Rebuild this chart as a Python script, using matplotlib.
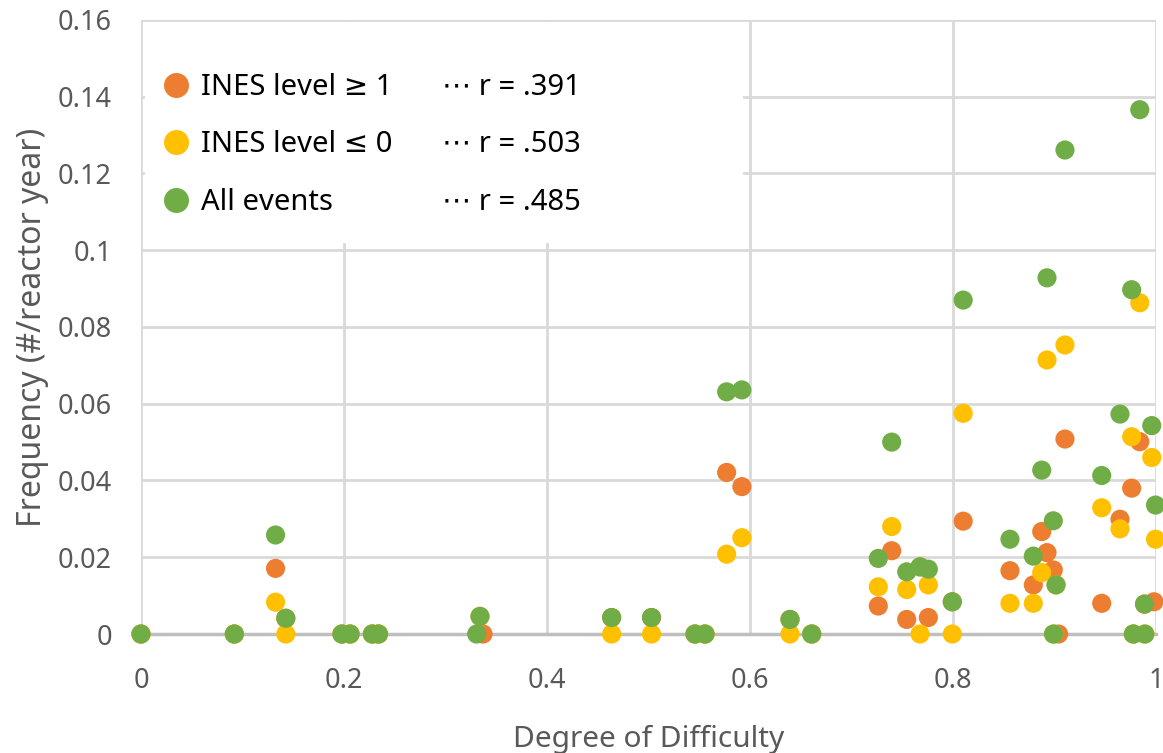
import matplotlib
matplotlib.use("Agg")
import matplotlib.pyplot as plt
from matplotlib.lines import Line2D
from matplotlib.patches import Rectangle

plt.rcParams["font.family"] = ["Noto Sans", "DejaVu Sans"]

# ---------------------------------------------------------------
# data
# ---------------------------------------------------------------
orange_x = [0, 0.092, 0.1326, 0.1427, 0.198, 0.206, 0.228, 0.234, 0.337, 0.4637,
            0.503, 0.5458, 0.5557, 0.577, 0.592, 0.6394, 0.6608, 0.7264, 0.7396, 0.7544,
            0.7675, 0.7757, 0.7993, 0.810, 0.8561, 0.8791, 0.8874, 0.8926, 0.8988, 0.904,
            0.9103, 0.9465, 0.9645, 0.976, 0.9777, 0.984, 0.9887, 0.998]
orange_y = [0, 0, 0.0171, 0.0041, 0, 0, 0, 0, 0, 0.0043,
            0.0043, 0, 0, 0.0421, 0.0384, 0.0038, 0, 0.0073, 0.0217, 0.0038,
            0.0175, 0.0043, 0.0084, 0.0294, 0.0165, 0.0128, 0.0267, 0.0212, 0.0167, 0,
            0.0508, 0.0080, 0.0299, 0.0380, 0, 0.0501, 0.0078, 0.0084]

yellow_x = [0, 0.092, 0.1326, 0.1427, 0.198, 0.206, 0.228, 0.234, 0.334, 0.4637,
            0.503, 0.5458, 0.5557, 0.577, 0.592, 0.6394, 0.6608, 0.7264, 0.7396, 0.7544,
            0.7675, 0.7757, 0.7993, 0.810, 0.8561, 0.8791, 0.8874, 0.8926, 0.899, 0.9015,
            0.9103, 0.9465, 0.9645, 0.976, 0.9777, 0.984, 0.989, 0.9958, 0.9995]
yellow_y = [0, 0, 0.0083, 0, 0, 0, 0, 0, 0.0046, 0,
            0, 0, 0, 0.0208, 0.0251, 0, 0, 0.0123, 0.0280, 0.0116,
            0, 0.0128, 0, 0.0575, 0.0080, 0.0080, 0.0160, 0.0714, 0, 0.0128,
            0.0753, 0.0329, 0.0274, 0.0514, 0, 0.0863, 0, 0.0460, 0.0247]

green_x = [0, 0.092, 0.1326, 0.1427, 0.198, 0.206, 0.228, 0.234, 0.3307, 0.334,
           0.4637, 0.503, 0.5458, 0.5557, 0.577, 0.592, 0.6394, 0.6608, 0.7264, 0.7396,
           0.7544, 0.7675, 0.7757, 0.7993, 0.810, 0.8561, 0.8791, 0.8874, 0.8926, 0.8988,
           0.899, 0.9015, 0.9103, 0.9465, 0.9645, 0.976, 0.9777, 0.984, 0.9887, 0.989,
           0.9958, 0.9995]
green_y = [0, 0, 0.0258, 0.0041, 0, 0, 0, 0, 0, 0.0046,
           0.0043, 0.0043, 0, 0, 0.0631, 0.0636, 0.0038, 0, 0.0197, 0.0500,
           0.0162, 0.0175, 0.0169, 0.0084, 0.0870, 0.0247, 0.0203, 0.0427, 0.0928, 0.0295,
           0, 0.0128, 0.1261, 0.0413, 0.0573, 0.0897, 0, 0.1366, 0.0078, 0,
           0.0543, 0.0336]

series_labels = ["INES level \u2265 1", "INES level \u2264 0", "All events"]
r_labels = ["\u22ef r = .391", "\u22ef r = .503", "\u22ef r = .485"]
colors = ["#ED7D31", "#FFC000", "#70AD47"]

x_ticks = [0, 0.2, 0.4, 0.6, 0.8, 1.0]
x_ticklabels = ["0", "0.2", "0.4", "0.6", "0.8", "1"]
y_ticks = [0, 0.02, 0.04, 0.06, 0.08, 0.10, 0.12, 0.14, 0.16]
y_ticklabels = ["0", "0.02", "0.04", "0.06", "0.08", "0.1", "0.12", "0.14", "0.16"]

TEXT_GREY = "#595959"
GRID_GREY = "#d9d9d9"

fig = plt.figure(figsize=(11.63, 7.53), dpi=100)
ax = fig.add_axes([0.1212, 0.158, 0.8728, 0.8156])

sets = [(orange_x, orange_y), (yellow_x, yellow_y), (green_x, green_y)]
for (xs, ys), c, z in zip(sets, colors, [3, 4, 5]):
    ax.scatter(xs, ys, s=190, color=c, edgecolors="none", zorder=z, clip_on=False)

ax.set_xlim(0, 1)
ax.set_ylim(0, 0.16)
ax.set_xticks(x_ticks)
ax.set_xticklabels(x_ticklabels)
ax.set_yticks(y_ticks)
ax.set_yticklabels(y_ticklabels)
ax.tick_params(length=0, labelsize=19.5, labelcolor=TEXT_GREY)
ax.tick_params(axis="x", pad=24)
ax.tick_params(axis="y", pad=21)

ax.grid(True, color=GRID_GREY, linewidth=2)
ax.set_axisbelow(True)
for side in ["top", "right", "left"]:
    ax.spines[side].set_visible(False)
ax.spines["bottom"].set_color("#bfbfbf")
ax.spines["bottom"].set_linewidth(2.5)

ax.set_xlabel("Degree of Difficulty", fontsize=21.5, color=TEXT_GREY, labelpad=21)
ax.set_ylabel("Frequency (#/reactor year)", fontsize=23, color=TEXT_GREY, labelpad=6)

# white block behind the legend hides the grid there
ax.add_patch(Rectangle((0.004, 0.637), 0.589, 0.36, transform=ax.transAxes,
                       facecolor="white", edgecolor="none", zorder=1))

handles = [Line2D([], [], linestyle="none", marker="o", markersize=18,
                  markerfacecolor=c, markeredgecolor="none") for c in colors]
blanks = [Line2D([], [], linestyle="none") for _ in r_labels]
leg = ax.legend(handles + blanks, series_labels + r_labels, ncol=2,
                loc="upper left", bbox_to_anchor=(0.007, 0.937),
                frameon=False, fontsize=21, handlelength=0.9, handletextpad=0.4,
                labelspacing=0.97, columnspacing=0.41, borderpad=0)
leg.set_zorder(6)

fig.savefig("out.png", dpi=100)
